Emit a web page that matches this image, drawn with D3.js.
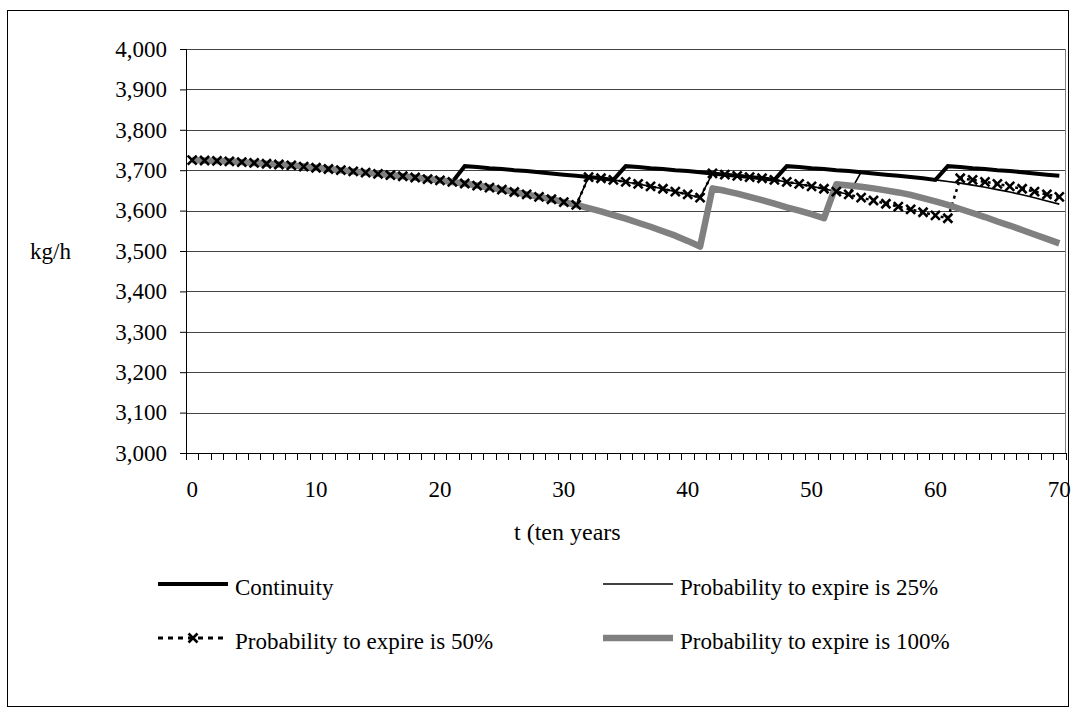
<!DOCTYPE html>
<html>
<head>
<meta charset="utf-8">
<script src="https://cdn.jsdelivr.net/npm/d3@7"></script>
<style>
  body { margin: 0; background: #fff; }
  text { font-family: "Liberation Serif", "Times New Roman", serif; fill: #000; }
</style>
</head>
<body>
<svg id="chart" width="1075" height="715"></svg>
<script>
// periods 0..70 (t in ten years)
const periods = d3.range(0, 71);
const xLabels = [0, 10, 20, 30, 40, 50, 60, 70];
const yTicks = [3000, 3100, 3200, 3300, 3400, 3500, 3600, 3700, 3800, 3900, 4000];

// kg/h values, one per period
const continuity = [
  3725, 3724, 3723, 3722, 3720, 3718, 3716, 3714, 3712, 3709, 3706, 3703, 3700, 3697, 3694, 3691,
  3688, 3685, 3682, 3678, 3675, 3671,
  3710, 3708, 3705, 3703, 3700, 3698, 3695, 3692, 3689, 3686, 3683, 3680, 3676,
  3710, 3708, 3705, 3703, 3700, 3698, 3695, 3692, 3689, 3686, 3683, 3680, 3676,
  3710, 3708, 3705, 3703, 3700, 3698, 3695, 3692, 3689, 3686, 3683, 3680, 3676,
  3710, 3708, 3705, 3703, 3700, 3698, 3695, 3692, 3689, 3686
];
const prob25 = [
  3725, 3724, 3723, 3722, 3720, 3718, 3716, 3714, 3712, 3709, 3706, 3703, 3700, 3697, 3694, 3691,
  3688, 3685, 3682, 3678, 3675, 3671, 3667, 3662, 3657, 3652, 3646, 3640, 3634, 3628, 3621, 3614,
  3683, 3680, 3676,
  3671, 3666, 3660, 3654, 3647, 3640, 3632,
  3692, 3689, 3686, 3683, 3680, 3676,
  3671, 3666, 3660, 3654, 3647, 3640,
  3695, 3692, 3689, 3686, 3683, 3680, 3676,
  3672, 3668, 3663, 3658, 3652, 3646, 3639, 3632, 3624, 3616
];
const prob50 = [
  3725, 3724, 3723, 3722, 3720, 3718, 3716, 3714, 3712, 3709, 3706, 3703, 3700, 3697, 3694, 3691,
  3688, 3685, 3682, 3678, 3675, 3671, 3667, 3662, 3657, 3652, 3646, 3640, 3634, 3628, 3621, 3614,
  3683, 3680, 3676,
  3671, 3666, 3660, 3654, 3647, 3640, 3632,
  3692, 3689, 3686, 3683, 3680, 3676,
  3671, 3666, 3660, 3654, 3647, 3640, 3632, 3625, 3617, 3610, 3603, 3596, 3588, 3581,
  3680, 3676, 3671, 3666, 3660, 3654, 3647, 3640, 3634
];
const prob100 = [
  3725, 3724, 3723, 3722, 3720, 3718, 3716, 3714, 3712, 3709, 3706, 3703, 3700, 3697, 3694, 3691,
  3688, 3685, 3682, 3678, 3675, 3671, 3667, 3662, 3657, 3652, 3646, 3640, 3634, 3628, 3621, 3614,
  3606, 3598, 3589, 3580, 3570, 3560, 3549, 3538, 3525, 3511,
  3655, 3649, 3642, 3634, 3626, 3617, 3608, 3600, 3591, 3581,
  3665, 3662, 3659, 3655, 3650, 3645, 3639, 3631, 3623, 3614, 3604, 3594, 3584, 3573, 3563, 3552,
  3541, 3530, 3519
];

const svg = d3.select("#chart");

// outer chart frame
svg.append("rect")
  .attr("x", 7.5).attr("y", 10.5)
  .attr("width", 1061).attr("height", 696)
  .attr("fill", "none").attr("stroke", "#000").attr("stroke-width", 1);

const plotL = 186, plotR = 1065.5, plotT = 49, plotB = 453;

const x = d3.scaleBand().domain(periods).range([plotL, plotR]);
const bw = x.bandwidth();
const y = d3.scaleLinear().domain([3000, 4000]).range([plotB, plotT]);

// gridlines
svg.append("g").selectAll("line").data(yTicks).join("line")
  .attr("x1", plotL).attr("x2", plotR)
  .attr("y1", d => Math.round(y(d)) + 0.5).attr("y2", d => Math.round(y(d)) + 0.5)
  .attr("stroke", "#444").attr("stroke-width", 1);

// right border of plot area
svg.append("line")
  .attr("x1", plotR).attr("x2", plotR).attr("y1", plotT).attr("y2", plotB)
  .attr("stroke", "#808080");

// y axis
const yAxis = svg.append("g")
  .attr("transform", `translate(${plotL},0)`)
  .call(d3.axisLeft(y).tickValues(yTicks).tickSize(6).tickPadding(13).tickFormat(d3.format(",")));
yAxis.selectAll("path, line").attr("stroke", "#000");
yAxis.selectAll("text").style("font-family", "Liberation Serif, serif").style("font-size", "23px");

// x axis: labels every 10 periods, tick marks between categories
const xAxis = svg.append("g")
  .attr("transform", `translate(0,${plotB})`)
  .call(d3.axisBottom(x).tickValues(xLabels).tickSize(0).tickPadding(28));
xAxis.select(".domain").attr("stroke", "#000");
xAxis.selectAll("text").style("font-family", "Liberation Serif, serif").style("font-size", "23px");

const bounds = periods.map(p => x(p)).concat([plotR]);
svg.append("g").selectAll("line").data(bounds).join("line")
  .attr("x1", d => Math.round(d) + 0.5).attr("x2", d => Math.round(d) + 0.5)
  .attr("y1", plotB).attr("y2", plotB + 7)
  .attr("stroke", "#000");

// series lines
const line = d3.line()
  .x((d, i) => x(periods[i]) + bw / 2)
  .y(d => y(d));

const g = svg.append("g");
g.append("path").attr("d", line(continuity))
  .attr("fill", "none").attr("stroke", "#000").attr("stroke-width", 4);
g.append("path").attr("d", line(prob25))
  .attr("fill", "none").attr("stroke", "#000").attr("stroke-width", 1.6);
g.append("path").attr("d", line(prob50))
  .attr("fill", "none").attr("stroke", "#000").attr("stroke-width", 2.5)
  .attr("stroke-dasharray", "3,4");
g.append("path").attr("d", line(prob100))
  .attr("fill", "none").attr("stroke", "#808080").attr("stroke-width", 6.5)
  .attr("stroke-linejoin", "round");

// x markers on the 50% series
const cross = "M-4.5,-4.5L4.5,4.5M-4.5,4.5L4.5,-4.5";
g.selectAll(".mk").data(prob50).join("path")
  .attr("class", "mk")
  .attr("transform", (d, i) => `translate(${x(periods[i]) + bw / 2},${y(d)})`)
  .attr("d", cross)
  .attr("stroke", "#000").attr("stroke-width", 2.6);

// axis titles
svg.append("text").attr("x", 30).attr("y", 251).attr("dy", "0.35em")
  .style("font-size", "23px").text("kg/h");
svg.append("text").attr("x", 514).attr("y", 540)
  .style("font-size", "24px").text("t (ten years");

// legend
const legend = [
  { label: "Continuity", x: 158, y: 584, stroke: "#000", w: 4 },
  { label: "Probability to expire is 25%", x: 603, y: 584, stroke: "#000", w: 1.6 },
  { label: "Probability to expire is 50%", x: 158, y: 638, stroke: "#000", w: 3, dash: "5,5", marker: true },
  { label: "Probability to expire is 100%", x: 603, y: 638, stroke: "#808080", w: 6.5 }
];
const lg = svg.append("g").selectAll("g").data(legend).join("g");
lg.append("line")
  .attr("x1", d => d.x).attr("x2", d => d.x + 70)
  .attr("y1", d => d.y).attr("y2", d => d.y)
  .attr("stroke", d => d.stroke).attr("stroke-width", d => d.w)
  .attr("stroke-dasharray", d => d.dash || null);
lg.filter(d => d.marker).append("path")
  .attr("transform", d => `translate(${d.x + 35},${d.y})`)
  .attr("d", cross).attr("stroke", "#000").attr("stroke-width", 2.6);
lg.append("text")
  .attr("x", d => d.x + 77).attr("y", d => d.y + 11)
  .style("font-size", "23px").text(d => d.label);
</script>
</body>
</html>
